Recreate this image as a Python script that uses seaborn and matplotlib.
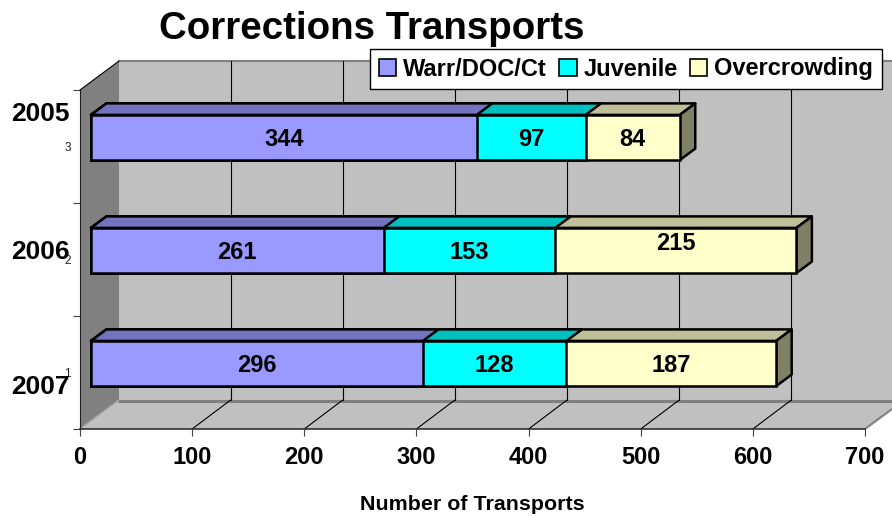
import matplotlib
matplotlib.use("Agg")
import matplotlib.pyplot as plt
import seaborn as sns
import pandas as pd
from matplotlib.patches import Polygon, Patch
from matplotlib.lines import Line2D
from matplotlib.transforms import IdentityTransform, ScaledTranslation

years = ["2005", "2006", "2007"]
small_ticks = ["3", "2", "1"]
warr = [344, 261, 296]
juvenile = [97, 153, 128]
overcrowding = [84, 215, 187]
series_names = ["Warr/DOC/Ct", "Juvenile", "Overcrowding"]
x_ticks = [0, 100, 200, 300, 400, 500, 600, 700]

front_cols = ["#9999FF", "#00FFFF", "#FFFFCC"]
top_cols = ["#7373BF", "#00BFBF", "#BFBF99"]
side_col = "#808066"

W, H = 892, 516
sns.set_theme(style="white")
plt.rcParams["font.family"] = ["Liberation Sans", "DejaVu Sans"]
fig = plt.figure(figsize=(W / 100, H / 100), dpi=100, facecolor="white")
ax = fig.add_axes([80 / W, 1 - 429 / H, 785 / W, 339 / H])
ax.patch.set_visible(False)

df = pd.DataFrame({"year": years, "warr": warr, "juv": juvenile, "over": overcrowding})
df["c1"] = df["warr"]
df["c2"] = df["warr"] + df["juv"]
df["c3"] = df["c2"] + df["over"]

BAR_LW = 1.8

# stacked bars, drawn back to front as cumulative totals
offset = ax.transData + ScaledTranslation(11 / 100, 9 / 100, fig.dpi_scale_trans)
for col, colr, z in zip(["c3", "c2", "c1"], front_cols[::-1], [5.2, 5.4, 5.6]):
    n_before = len(ax.patches)
    sns.barplot(data=df, x=col, y="year", order=years, color=colr, saturation=1,
                width=0.4, edgecolor="black", linewidth=BAR_LW, orient="h", ax=ax, errorbar=None)
    for p in ax.patches[n_before:]:
        p.set_zorder(z)

ax.set_xlim(0, 700)
ax.set_ylim(2.5, -0.5)
for p in ax.patches:
    p.set_transform(offset)


def px(x, y):
    return (x, H - y)


def poly(points, fc, ec="none", lw=0, z=1):
    ax.add_patch(Polygon([px(*q) for q in points], closed=True, facecolor=fc, edgecolor=ec,
                         linewidth=lw, transform=IdentityTransform(), clip_on=False,
                         zorder=z, joinstyle="miter"))


def seg(p0, p1, color="black", lw=0.8, z=2):
    ax.add_line(Line2D(*zip(px(*p0), px(*p1)), color=color, linewidth=lw,
                       transform=IdentityTransform(), clip_on=False, zorder=z))


# 3-D walls
DX = 38.5
poly([(119, 61), (930, 61), (930, 400), (119, 400)], "#C0C0C0", z=0.5)
poly([(80, 90), (119, 61), (119, 400), (80, 429)], "#808080", z=0.7)
poly([(80, 429), (119, 400), (904, 400), (865, 429)], "#C0C0C0", z=0.6)
seg((119, 60.5), (892, 60.5), "#808080", 1.5, 0.8)
seg((119, 400.5), (892, 400.5), "#808080", 2.2, 0.8)
seg((80, 429), (119, 400), "#A8A8A8", 1.0, 0.8)
seg((865, 429), (892, 409), "#808080", 1.5, 0.8)
seg((80, 90), (119, 61), "black", 0.8, 0.9)

for v in x_ticks[1:-1]:
    xp = ax.transData.transform((v, 0))[0]
    seg((xp + DX, 61), (xp + DX, 400), "black", 0.8, 1.0)
    seg((xp, 429), (xp + DX, 400), "black", 0.8, 1.0)

# top and side faces of the bars
tdx, tdy = 15.5, 11.5
for i, y in enumerate(years):
    x_left, y_top = offset.transform((0, i - 0.2))
    _, y_bot = offset.transform((0, i + 0.2))
    for col, colr, z in zip(["c3", "c2", "c1"], top_cols[::-1], [4.2, 4.4, 4.6]):
        xr = offset.transform((df[col][i], 0))[0]
        pts = [(x_left, y_top), (x_left + tdx, y_top + tdy), (xr + tdx, y_top + tdy), (xr, y_top)]
        ax.add_patch(Polygon(pts, closed=True, facecolor=colr, edgecolor="black", linewidth=BAR_LW,
                             transform=IdentityTransform(), clip_on=False, zorder=z, joinstyle="round"))
    xr = offset.transform((df["c3"][i], 0))[0]
    pts = [(xr, y_top), (xr + tdx, y_top + tdy), (xr + tdx, y_bot + tdy), (xr, y_bot)]
    ax.add_patch(Polygon(pts, closed=True, facecolor=side_col, edgecolor="black", linewidth=BAR_LW,
                         transform=IdentityTransform(), clip_on=False, zorder=4.9, joinstyle="round"))

# value labels
for i in range(len(years)):
    starts = [0, df["c1"][i], df["c2"][i]]
    vals = [warr[i], juvenile[i], overcrowding[i]]
    for s, v in zip(starts, vals):
        extra = 9 if v == 215 else 0
        tr = offset + ScaledTranslation(0, (extra - 2) / 100, fig.dpi_scale_trans)
        ax.text(s + v / 2, i, str(v), ha="center", va="center", fontsize=17,
                fontweight="bold", color="black", transform=tr, zorder=7)

# axes
for s in ["top", "right"]:
    ax.spines[s].set_visible(False)
ax.spines["left"].set_linewidth(0.8)
ax.spines["left"].set_color("#202020")
ax.spines["bottom"].set_linewidth(1.2)
ax.spines["bottom"].set_color("#303030")
ax.spines["left"].set_zorder(3)
ax.spines["bottom"].set_zorder(3)
ax.set_xticks(x_ticks)
ax.set_xticklabels([str(v) for v in x_ticks], fontsize=17, fontweight="bold", color="black")
ax.tick_params(axis="x", length=5, width=0.8, color="#404040", pad=7.2, bottom=True)
ax.set_yticks(range(3))
ax.set_yticklabels(small_ticks, fontsize=8.5, color="#202020")
ax.tick_params(axis="y", which="major", length=0, pad=6.5, left=False)
ax.set_yticks([-0.5, 0.5, 1.5, 2.5], minor=True)
ax.tick_params(axis="y", which="minor", length=5, width=0.8, color="#404040", left=True)
ax.set_ylabel("")
ax.set_xlabel("Number of Transports", fontsize=15.4, fontweight="bold", color="black")
ax.xaxis.set_label_coords((472 - 80) / 785, -(505 - 429) / 339, transform=ax.transAxes)
ax.xaxis.label.set_va("center")

# category labels
for lab, yp in zip(years, [114, 252, 387]):
    fig.text(70 / W, 1 - yp / H, lab, ha="right", va="center", fontsize=19,
             fontweight="bold", color="black", zorder=8)

fig.text(372 / W, 1 - 29 / H, "Corrections Transports", ha="center", va="center",
         fontsize=27.7, fontweight="bold", color="black")

# legend
handles = [Patch(facecolor=c, edgecolor="black", linewidth=1.2) for c in front_cols]
leg = fig.legend(handles, series_names, loc="upper left", bbox_to_anchor=(370 / W, 1 - 49 / H),
                 bbox_transform=fig.transFigure, ncol=3, frameon=True, fancybox=False,
                 framealpha=1, facecolor="white", edgecolor="black", borderpad=0.36,
                 columnspacing=0.5, handlelength=0.75, handleheight=0.75, handletextpad=0.3,
                 borderaxespad=0, labelcolor="black",
                 prop={"family": "Liberation Sans", "weight": "bold", "size": 17})
leg.get_frame().set_linewidth(1.0)
leg.set_zorder(10)

fig.savefig("out.png", dpi=100)
